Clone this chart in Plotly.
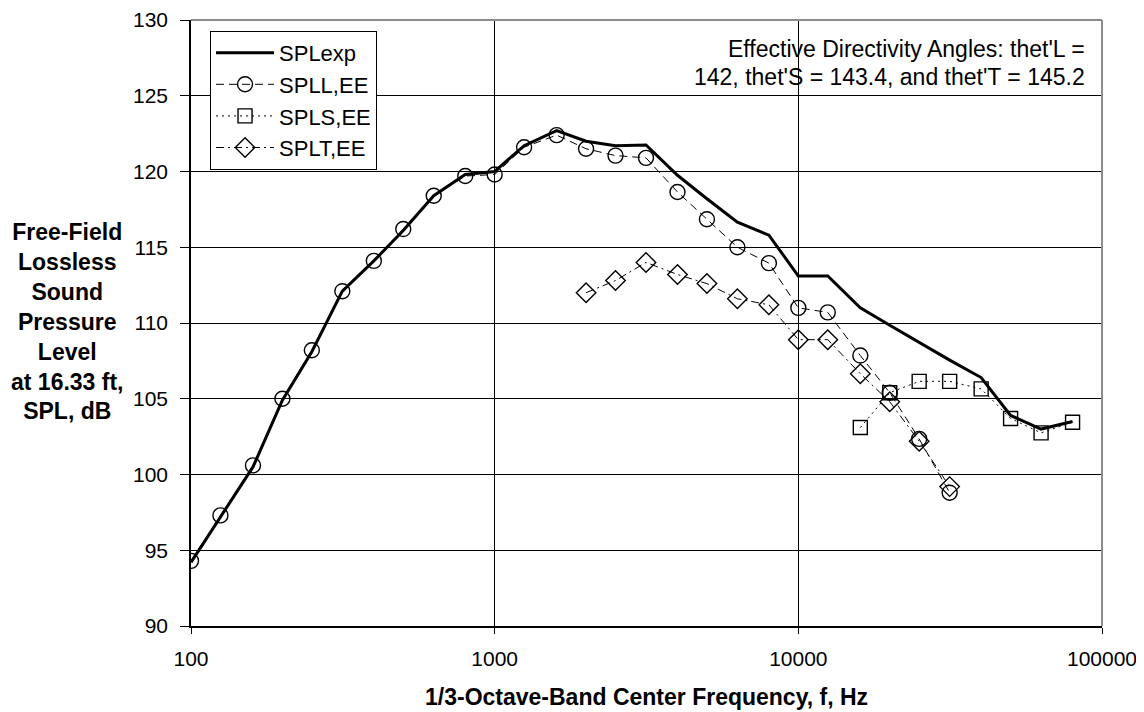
import plotly.graph_objects as go

# 1/3-octave band centre frequencies, Hz
freq = [100, 125, 160, 200, 250, 315, 400, 500, 630, 800, 1000, 1250, 1600, 2000, 2500,
        3150, 4000, 5000, 6300, 8000, 10000, 12500, 16000, 20000, 25000, 31500, 40000,
        50000, 63000, 80000]

spl_exp = [94.2, 97.2, 100.5, 104.9, 108.1, 112.1, 114.1, 116.1, 118.4, 119.8, 120.0, 121.7,
           122.7, 122.0, 121.7, 121.75, 119.75, 118.2, 116.65, 115.8, 113.1, 113.1, 111.0,
           109.85, 108.7, 107.55, 106.4, 103.9, 103.0, 103.5]

freq_L = freq[:26]
spl_L = [94.3, 97.3, 100.6, 105.0, 108.2, 112.1, 114.1, 116.2, 118.4, 119.7, 119.8, 121.6,
         122.4, 121.5, 121.05, 120.9, 118.65, 116.85, 115.0, 113.95, 111.0, 110.7, 107.85,
         105.4, 102.35, 98.8]

freq_S = freq[22:]
spl_S = [103.1, 105.4, 106.15, 106.15, 105.65, 103.7, 102.75, 103.45]

freq_T = freq[13:26]
spl_T = [112.0, 112.8, 114.0, 113.2, 112.6, 111.6, 111.2, 108.9, 108.9, 106.65, 104.8, 102.2, 99.2]

x_ticks = [100, 1000, 10000, 100000]
x_ticktext = ['100', '1000', '10000', '100000']

note_lines = ["Effective Directivity Angles: thet'L =", "142, thet'S = 143.4, and thet'T = 145.2"]

font = 'Arial, Liberation Sans, sans-serif'

fig = go.Figure()
fig.add_trace(go.Scatter(x=freq, y=spl_exp, name='SPLexp', mode='lines',
                         line=dict(color='black', width=3)))
fig.add_trace(go.Scatter(x=freq_L, y=spl_L, name='SPLL,EE', mode='lines+markers',
                         line=dict(color='black', width=1, dash='8px,5px'),
                         marker=dict(symbol='circle-open', size=15, color='black', line=dict(width=1.4))))
fig.add_trace(go.Scatter(x=freq_S, y=spl_S, name='SPLS,EE', mode='lines+markers',
                         line=dict(color='black', width=1, dash='2px,4px'),
                         marker=dict(symbol='square-open', size=14, color='black', line=dict(width=1.4))))
fig.add_trace(go.Scatter(x=freq_T, y=spl_T, name='SPLT,EE', mode='lines+markers',
                         line=dict(color='black', width=1, dash='8px,4px,2px,4px'),
                         marker=dict(symbol='diamond-open', size=15, color='black', line=dict(width=1.4))))

# text box in the upper right, one annotation per line
for txt, ypos in zip(note_lines, [0.952, 0.906]):
    fig.add_annotation(text=txt, xref='paper', yref='paper', x=0.9835, y=ypos,
                       xanchor='right', yanchor='middle', showarrow=False,
                       font=dict(size=23, color='black', family=font))

fig.add_annotation(text='<b>Free-Field<br>Lossless<br>Sound<br>Pressure<br>Level<br>at 16.33 ft,<br>SPL, dB</b>',
                   xref='paper', yref='paper', x=-0.1353, y=0.503, xanchor='center', yanchor='middle',
                   align='center', showarrow=False, font=dict(size=23, color='black', family=font))
fig.add_annotation(text='<b>1/3-Octave-Band Center Frequency, f, Hz</b>',
                   xref='paper', yref='paper', x=0.5, y=-0.117, xanchor='center', yanchor='middle',
                   showarrow=False, font=dict(size=23, color='black', family=font))

fig.add_shape(type='line', xref='x domain', yref='y domain', x0=0, x1=1, y0=1, y1=1,
              line=dict(color='#8c8c8c', width=2), layer='above')
fig.add_shape(type='line', xref='x domain', yref='y domain', x0=1, x1=1, y0=0, y1=1,
              line=dict(color='#8c8c8c', width=2), layer='above')

fig.update_layout(width=1144, height=712, plot_bgcolor='white', paper_bgcolor='white',
                  margin=dict(l=183, r=50, t=12, b=94),
                  font=dict(family=font, color='black', size=21),
                  showlegend=True,
                  legend=dict(x=0.0209, y=0.982, xanchor='left', yanchor='top',
                              bordercolor='black', borderwidth=1, bgcolor='white',
                              font=dict(size=22), tracegroupgap=0, itemwidth=58),
                  xaxis=dict(type='log', range=[2, 5], tickvals=x_ticks, ticktext=x_ticktext,
                             automargin=False,
                             showgrid=True, gridcolor='black', gridwidth=1,
                             showline=True, linecolor='black', linewidth=1.5,
                             ticks='outside', ticklen=6, tickcolor='black',
                             ticklabelstandoff=7, tickfont=dict(size=21)),
                  yaxis=dict(range=[90, 130], dtick=5, automargin=False,
                             showgrid=True, gridcolor='black', gridwidth=1,
                             showline=True, linecolor='black', linewidth=1.5, zeroline=False,
                             ticks='outside', ticklen=9, tickcolor='black',
                             ticklabelstandoff=8, tickfont=dict(size=21)))

fig.write_html('out.html')
